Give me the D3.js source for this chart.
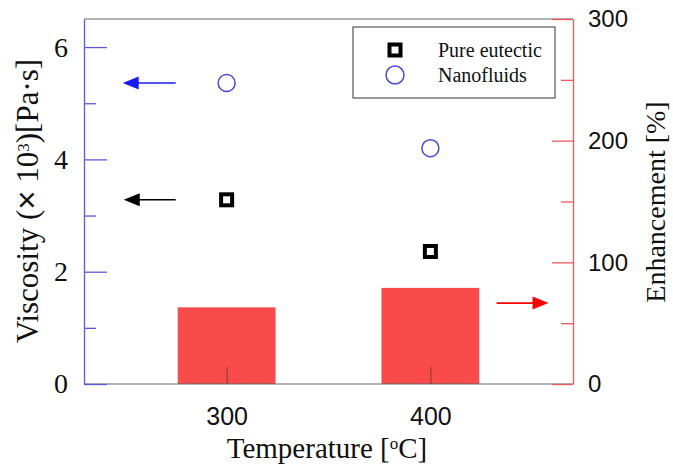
<html>
  <head>
    <style>
      body { margin: 0; background: #fff; }
      text { fill: #111; }
    </style>
  </head>
  <body>
    <div id="chart"></div>
    <script src="https://d3js.org/d3.v7.min.js"></script>
    <script>
      // data
      const temps = [300, 400];
      const pureEutectic = [3.28, 2.36];
      const nanofluids = [5.36, 4.2];
      const enhancement = [63, 79];
      const leftMajor = [0, 2, 4, 6];
      const leftMinor = [1, 3, 5];
      const rightMajor = [0, 100, 200, 300];
      const rightMinor = [50, 150, 250];

      const width = 673, height = 466;
      const plotL = 84, plotR = 573, plotT = 19, plotB = 384;
      const serif = "Liberation Serif, Times New Roman, serif";
      const sans = "Liberation Sans, Arial, sans-serif";

      const svg = d3.select("#chart").append("svg")
        .attr("width", width).attr("height", height);

      const x = d3.scaleLinear().domain([230, 470]).range([plotL, plotR]);
      const yL = d3.scaleLinear().domain([0, 6.5]).range([plotB, plotT]);
      const yR = d3.scaleLinear().domain([0, 300]).range([plotB, plotT]);
      const barW = x(300 + 48) - x(300);

      // bars (enhancement, right axis)
      svg.selectAll("rect.bar")
        .data(temps)
        .enter().append("rect")
        .attr("class", "bar")
        .attr("x", (d) => x(d) - barW / 2)
        .attr("width", barW)
        .attr("y", (d, i) => yR(enhancement[i]))
        .attr("height", (d, i) => plotB - yR(enhancement[i]))
        .attr("fill", "#fa4b4b");

      // frame top/bottom
      svg.append("line").attr("x1", plotL).attr("x2", plotR).attr("y1", plotT).attr("y2", plotT)
        .attr("stroke", "#666").attr("stroke-width", 1.2);
      svg.append("line").attr("x1", plotL).attr("x2", plotR).attr("y1", plotB).attr("y2", plotB)
        .attr("stroke", "#666").attr("stroke-width", 1.2);

      // bottom axis
      const xAxis = svg.append("g")
        .attr("transform", `translate(0,${plotB})`)
        .call(d3.axisBottom(x).tickValues(temps).tickSize(-17).tickSizeOuter(0).tickPadding(0));
      xAxis.select(".domain").remove();
      xAxis.selectAll("line").attr("stroke", "#333").attr("stroke-opacity", 0.55).attr("stroke-width", 1.2);
      xAxis.selectAll("text")
        .attr("y", 32).attr("dy", "0.35em")
        .style("font-family", sans).style("font-size", "25px").style("fill", "#111");

      // left axis (blue)
      const yLeft = svg.append("g").attr("transform", `translate(${plotL},0)`)
        .call(d3.axisLeft(yL).tickValues(leftMajor).tickFormat(d3.format("d"))
          .tickSize(-23).tickSizeOuter(0).tickPadding(16));
      yLeft.select(".domain").attr("stroke", "#5a5ad8").attr("stroke-width", 1.3);
      yLeft.selectAll("line").attr("stroke", "#5a5ad8").attr("stroke-width", 1.3);
      yLeft.selectAll("text")
        .style("font-family", serif).style("font-size", "28px").style("fill", "#111");
      svg.append("g").attr("transform", `translate(${plotL},0)`)
        .call(d3.axisLeft(yL).tickValues(leftMinor).tickSize(-12).tickFormat(""))
        .call((g) => g.select(".domain").remove())
        .selectAll("line").attr("stroke", "#5a5ad8").attr("stroke-width", 1.3);

      // right axis (red)
      const yRight = svg.append("g").attr("transform", `translate(${plotR},0)`)
        .call(d3.axisRight(yR).tickValues(rightMajor).tickSize(-21).tickSizeOuter(0).tickPadding(15));
      yRight.select(".domain").attr("stroke", "#ec5a5a").attr("stroke-width", 1.3);
      yRight.selectAll("line").attr("stroke", "#ec5a5a").attr("stroke-width", 1.3);
      yRight.selectAll("text")
        .style("font-family", sans).style("font-size", "24px").style("fill", "#111");
      svg.append("g").attr("transform", `translate(${plotR},0)`)
        .call(d3.axisRight(yR).tickValues(rightMinor).tickSize(-12).tickFormat(""))
        .call((g) => g.select(".domain").remove())
        .selectAll("line").attr("stroke", "#ec5a5a").attr("stroke-width", 1.3);

      // points
      svg.selectAll("rect.pure")
        .data(temps)
        .enter().append("rect")
        .attr("class", "pure")
        .attr("x", (d) => x(d) - 5.5)
        .attr("y", (d, i) => yL(pureEutectic[i]) - 5.5)
        .attr("width", 11).attr("height", 11)
        .attr("fill", "#fff").attr("stroke", "#000").attr("stroke-width", 4);

      svg.selectAll("circle.nano")
        .data(temps)
        .enter().append("circle")
        .attr("class", "nano")
        .attr("cx", (d) => x(d))
        .attr("cy", (d, i) => yL(nanofluids[i]))
        .attr("r", 8.5)
        .attr("fill", "none").attr("stroke", "#4b4bd8").attr("stroke-width", 1.5);

      // annotation arrows pointing to the matching axis
      function arrow(x1, x2, y, color) {
        const dir = x2 > x1 ? 1 : -1;
        const headLen = 16, half = 6.5;
        svg.append("line")
          .attr("x1", x1).attr("x2", x2 - dir * headLen + dir * 2).attr("y1", y).attr("y2", y)
          .attr("stroke", color).attr("stroke-width", 1.6);
        svg.append("path")
          .attr("d", `M${x2},${y} L${x2 - dir * headLen},${y - half} L${x2 - dir * headLen},${y + half} Z`)
          .attr("fill", color);
      }
      arrow(x(275), x(249), yL(5.36), "#1a1af0");
      arrow(x(275), x(249.5), yL(3.28), "#000");
      arrow(x(432.5), x(458), yR(66.5), "#f00");

      // legend
      const lg = svg.append("g");
      lg.append("rect").attr("x", 353).attr("y", 27).attr("width", 202).attr("height", 71)
        .attr("fill", "#fff").attr("stroke", "#555").attr("stroke-width", 1.2);
      lg.append("rect").attr("x", 389.5).attr("y", 44.5).attr("width", 11).attr("height", 11)
        .attr("fill", "#fff").attr("stroke", "#000").attr("stroke-width", 4);
      lg.append("circle").attr("cx", 395).attr("cy", 75).attr("r", 9)
        .attr("fill", "none").attr("stroke", "#4b4bd8").attr("stroke-width", 1.5);
      lg.append("text").attr("x", 438).attr("y", 57).text("Pure eutectic")
        .style("font-family", serif).style("font-size", "20px");
      lg.append("text").attr("x", 438).attr("y", 82).text("Nanofluids")
        .style("font-family", serif).style("font-size", "20px");

      // axis titles
      const xt = svg.append("text").attr("x", 327).attr("y", 458)
        .attr("text-anchor", "middle")
        .style("font-family", serif).style("font-size", "29px");
      xt.append("tspan").text("Temperature [");
      xt.append("tspan").attr("baseline-shift", "super").style("font-size", "17px").text("o");
      xt.append("tspan").text("C]");

      const yt = svg.append("text").attr("transform", "translate(38,201) rotate(-90)")
        .attr("text-anchor", "middle")
        .style("font-family", serif).style("font-size", "31px");
      yt.append("tspan").text("Viscosity (");
      yt.append("tspan").style("font-family", sans).style("font-size", "33px").text("×");
      yt.append("tspan").text(" 10");
      yt.append("tspan").attr("baseline-shift", "super").style("font-size", "17px").text("3");
      yt.append("tspan").text(")[Pa·s]");

      svg.append("text").attr("transform", "translate(665,202) rotate(-90)")
        .attr("text-anchor", "middle")
        .style("font-family", serif).style("font-size", "28px")
        .text("Enhancement [%]");
    </script>
  </body>
</html>
